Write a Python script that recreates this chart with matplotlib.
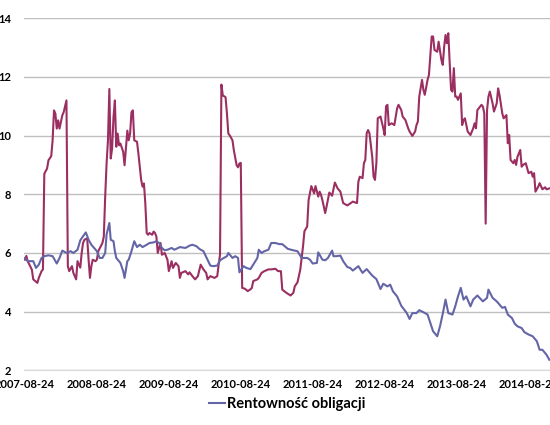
import numpy as np
import matplotlib
matplotlib.use("Agg")
import matplotlib.pyplot as plt

# weekly observations, x = week index counted from 2007-08-24
purple_weeks = [0, 1, 2, 5, 6, 9, 10, 12, 13, 14, 16, 17, 19, 20, 21, 22, 23, 24, 25, 27, 28, 30,
                31, 32, 34, 35, 37, 38, 40, 41, 42, 43, 45, 46, 47, 48, 49, 51, 52, 53, 56, 57,
                58, 59, 60, 61, 62, 63, 64, 65, 66, 67, 68, 69, 71, 72, 74, 75, 76, 77, 78, 79,
                81, 82, 84, 85, 86, 87, 88, 89, 90, 92, 93, 94, 95, 96, 98, 99, 101, 103, 104,
                106, 107, 109, 111, 112, 113, 116, 118, 119, 121, 123, 125, 127, 129, 131, 132,
                134, 137, 139, 140, 141, 142, 143, 145, 146, 147, 148, 150, 151, 153, 154, 155,
                156, 157, 159, 161, 163, 164, 165, 168, 169, 171, 173, 176, 178, 181, 183, 185,
                186, 189, 192, 194, 195, 197, 199, 201, 202, 204, 205, 207, 209, 210, 212, 213,
                214, 215, 217, 218, 220, 222, 224, 226, 228, 230, 233, 237, 240, 241, 242, 244,
                245, 246, 247, 248, 249, 251, 252, 253, 254, 255, 257, 259, 260, 261, 262, 263,
                265, 267, 268, 269, 270, 272, 273, 275, 277, 278, 280, 282, 283, 284, 285, 287,
                288, 289, 291, 292, 294, 295, 296, 298, 299, 301, 302, 303, 304, 305, 306, 307,
                308, 309, 310, 311, 312, 313, 314, 315, 316, 317, 318, 319, 320, 322, 324, 325,
                326, 327, 330, 331, 332, 333, 334, 335, 336, 338, 339, 341, 342, 343, 345, 346,
                348, 349, 350, 351, 353, 354, 355, 356, 358, 359, 360, 362, 364, 366, 367, 368,
                369, 371, 372, 374, 376, 377, 379]
purple_vals = [5.77, 5.9, 5.72, 5.43, 5.1, 4.98, 5.15, 5.38, 5.44, 8.7, 8.88, 9.16, 9.3, 9.84,
               10.86, 10.75, 10.24, 10.52, 10.24, 10.69, 10.8, 11.2,
               5.55, 5.38, 5.55, 5.32, 5.1, 5.72, 5.5, 6.0, 6.34, 6.45, 6.5, 5.77, 5.15, 5.55,
               5.77, 5.72, 5.77, 6.06, 6.34, 6.56,
               7.92, 9.05, 9.84, 11.59, 9.22, 9.56, 10.63, 11.2, 9.62, 10.07, 9.67, 9.73, 9.45,
               8.99, 10.17, 9.84, 10.07, 10.8, 10.86, 9.84,
               9.79, 9.39, 8.49, 8.26, 8.37, 7.69, 6.68, 6.62, 6.68, 6.62, 6.73, 6.68, 6.56,
               6.0, 6.34, 5.94, 6.0, 5.77, 5.38,
               5.72, 5.49, 5.66, 5.55, 5.15, 5.32, 5.38, 5.27, 5.34, 5.21, 5.1, 5.21, 5.6, 5.44,
               5.32, 5.1,
               5.21, 5.15, 5.21, 5.6, 5.94, 11.74, 11.37, 11.31, 10.75, 10.07, 10.01, 9.84,
               9.5, 8.99, 8.92, 9.05,
               9.07, 4.81, 4.78, 4.7, 4.76, 4.81, 5.04, 5.1, 5.15, 5.32, 5.38, 5.44, 5.44,
               5.46, 5.38, 5.38,
               4.75, 4.64, 4.55, 4.64, 4.86, 5.0, 5.43, 6.23, 6.74, 6.9, 7.8, 8.28, 8.03, 8.28,
               7.92, 8.09,
               7.98, 7.8, 7.36, 7.58, 8.06, 7.95, 8.4, 8.2, 8.09, 7.7, 7.62, 7.75, 7.7, 8.43,
               8.6, 8.55,
               9.06, 9.17, 10.08, 10.19, 10.08, 9.28, 8.6, 8.49, 9.06, 10.59, 10.65, 10.25,
               10.02, 11.0, 11.05, 10.36,
               10.42, 10.36, 10.65, 10.93, 11.05, 10.87, 10.65, 10.53, 10.25, 10.14, 9.99,
               10.14, 10.36, 10.48, 11.33, 11.9,
               11.56, 11.39, 11.9, 12.07, 13.38, 13.38, 12.92, 12.86, 13.2, 12.58, 12.41,
               13.03, 13.43, 13.15, 13.49, 12.47,
               11.56, 11.5, 12.3, 11.33, 11.33, 11.22, 11.33, 11.44, 10.36, 10.53, 10.59,
               10.36, 10.14, 10.02, 10.25, 10.42,
               10.25, 10.87, 11.05, 10.99, 10.76, 7.0, 10.87, 11.33, 11.5, 11.1, 10.82, 11.1,
               11.61, 11.39, 10.76, 10.59,
               10.7, 9.74, 10.02, 9.17, 9.06, 9.17, 9.0, 9.28, 9.51, 8.94, 9.0, 9.06, 8.72,
               8.77, 8.6, 8.72,
               8.09, 8.26, 8.38, 8.17, 8.24, 8.17, 8.2]

blue_weeks = [0, 2, 6, 8, 10, 12, 14, 17, 20, 22, 23, 25, 27, 30, 33, 35, 38, 40, 42, 44, 46,
              48, 52, 54, 56, 58, 59, 61, 62, 64, 65, 66, 69, 71, 72, 74, 75, 77, 78, 79, 81,
              83, 85, 88, 90, 93, 95, 97, 99, 101, 103, 106, 108, 112, 116, 119, 121, 124,
              126, 129, 132, 134, 136, 139, 141, 143, 146, 147, 150, 152, 154, 155, 158, 160,
              163, 165, 168, 169, 171, 173, 176, 178, 181, 184, 186, 190, 194, 197, 200, 204,
              206, 208, 211, 212, 215, 217, 219, 222, 223, 225, 228, 230, 233, 235, 237, 241,
              244, 247, 251, 254, 257, 259, 262, 264, 266, 269, 272, 276, 278, 280, 283, 285,
              288, 291, 293, 295, 298, 300, 302, 304, 306, 309, 311, 313, 315, 317, 319, 322,
              324, 327, 331, 334, 335, 338, 341, 345, 347, 349, 352, 354, 356, 359, 361, 364,
              366, 367, 370, 372, 374, 377, 379]
blue_vals = [5.83, 5.72, 5.72, 5.49, 5.6, 5.83, 5.89, 5.92, 5.89, 5.72, 5.64, 5.83, 6.08, 6.0,
             6.06, 6.0, 6.11, 6.43, 6.57, 6.7, 6.45,
             6.28, 6.06, 5.83, 5.83, 6.0, 6.63, 7.02, 6.45, 6.4, 6.06, 5.83, 5.66, 5.38, 5.15,
             5.72, 5.77, 6.06, 6.23, 6.4, 6.2,
             6.28, 6.2, 6.28, 6.34, 6.36, 6.4, 6.34, 6.17, 6.09, 6.11, 6.17, 6.11, 6.2, 6.17,
             6.25, 6.28, 6.23,
             6.14, 6.06, 5.77, 5.57, 5.55, 5.57, 5.75, 5.81, 5.89, 6.0, 5.83, 5.89, 5.83, 5.34,
             5.55, 5.49,
             5.45, 5.6, 5.83, 6.11, 6.0, 6.06, 6.11, 6.34, 6.34, 6.3, 6.3, 6.14, 6.09, 6.06,
             5.83, 5.83,
             5.77, 5.64, 5.66, 6.02, 5.77, 5.75, 5.83, 6.08, 5.89, 5.89, 5.91, 5.72, 5.52, 5.49,
             5.4, 5.55,
             5.32, 5.45, 5.23, 5.11, 4.77, 4.95, 4.86, 4.92, 4.69, 4.52, 4.2, 3.95, 3.75, 3.95,
             3.95, 4.05,
             3.98, 3.9, 3.61, 3.33, 3.16, 3.5, 3.93, 4.41, 3.95, 3.9, 4.18, 4.52, 4.81, 4.41,
             4.52, 4.18,
             4.41, 4.55, 4.35, 4.47, 4.75, 4.47, 4.35, 4.13, 4.16, 3.9, 3.78, 3.59, 3.5, 3.44,
             3.3, 3.22,
             3.18, 3.16, 2.99, 2.7, 2.7, 2.53, 2.36]

tick_weeks = [0, 52, 104, 156, 208, 260, 312, 364]
tick_labels = ["2007-08-24", "2008-08-24", "2009-08-24", "2010-08-24",
               "2011-08-24", "2012-08-24", "2013-08-24", "2014-08-24"]

FONT = ["Lato", "DejaVu Sans"]

fig = plt.figure(figsize=(5.5, 4.25), dpi=100)
ax = fig.add_axes([0.0436, 0.1287, 0.9564, 0.8283])

ax.plot(purple_weeks, purple_vals, color="#9B2F62", lw=1.5, label="_nolegend_")
ax.plot(blue_weeks, blue_vals, color="#6465A6", lw=1.5, label="Rentowność obligacji")

ax.set_ylim(2, 14)
ax.set_yticks(np.arange(2, 15, 2))
ax.set_xlim(-0.7, 379.5)
ax.set_xticks(tick_weeks)
ax.set_xticklabels(tick_labels)
ax.grid(axis="y", color="#BFBFBF", lw=1.0)
ax.set_axisbelow(True)
for s in ("top", "right", "left"):
    ax.spines[s].set_visible(False)
ax.spines["bottom"].set_color("#D9D9D9")
ax.tick_params(length=0)
ax.tick_params(axis="y", pad=9)
ax.tick_params(axis="x", pad=6)
for lab in ax.get_xticklabels() + ax.get_yticklabels():
    lab.set_fontfamily(FONT)
    lab.set_fontweight("bold")
    lab.set_fontsize(8)

leg = fig.legend(loc="center", bbox_to_anchor=(0.522, 0.049), frameon=False,
                 handlelength=1.1, handletextpad=0.15,
                 prop={"family": FONT, "weight": "bold", "size": 10.5})

fig.savefig("out.png", dpi=100)
plt.close(fig)
